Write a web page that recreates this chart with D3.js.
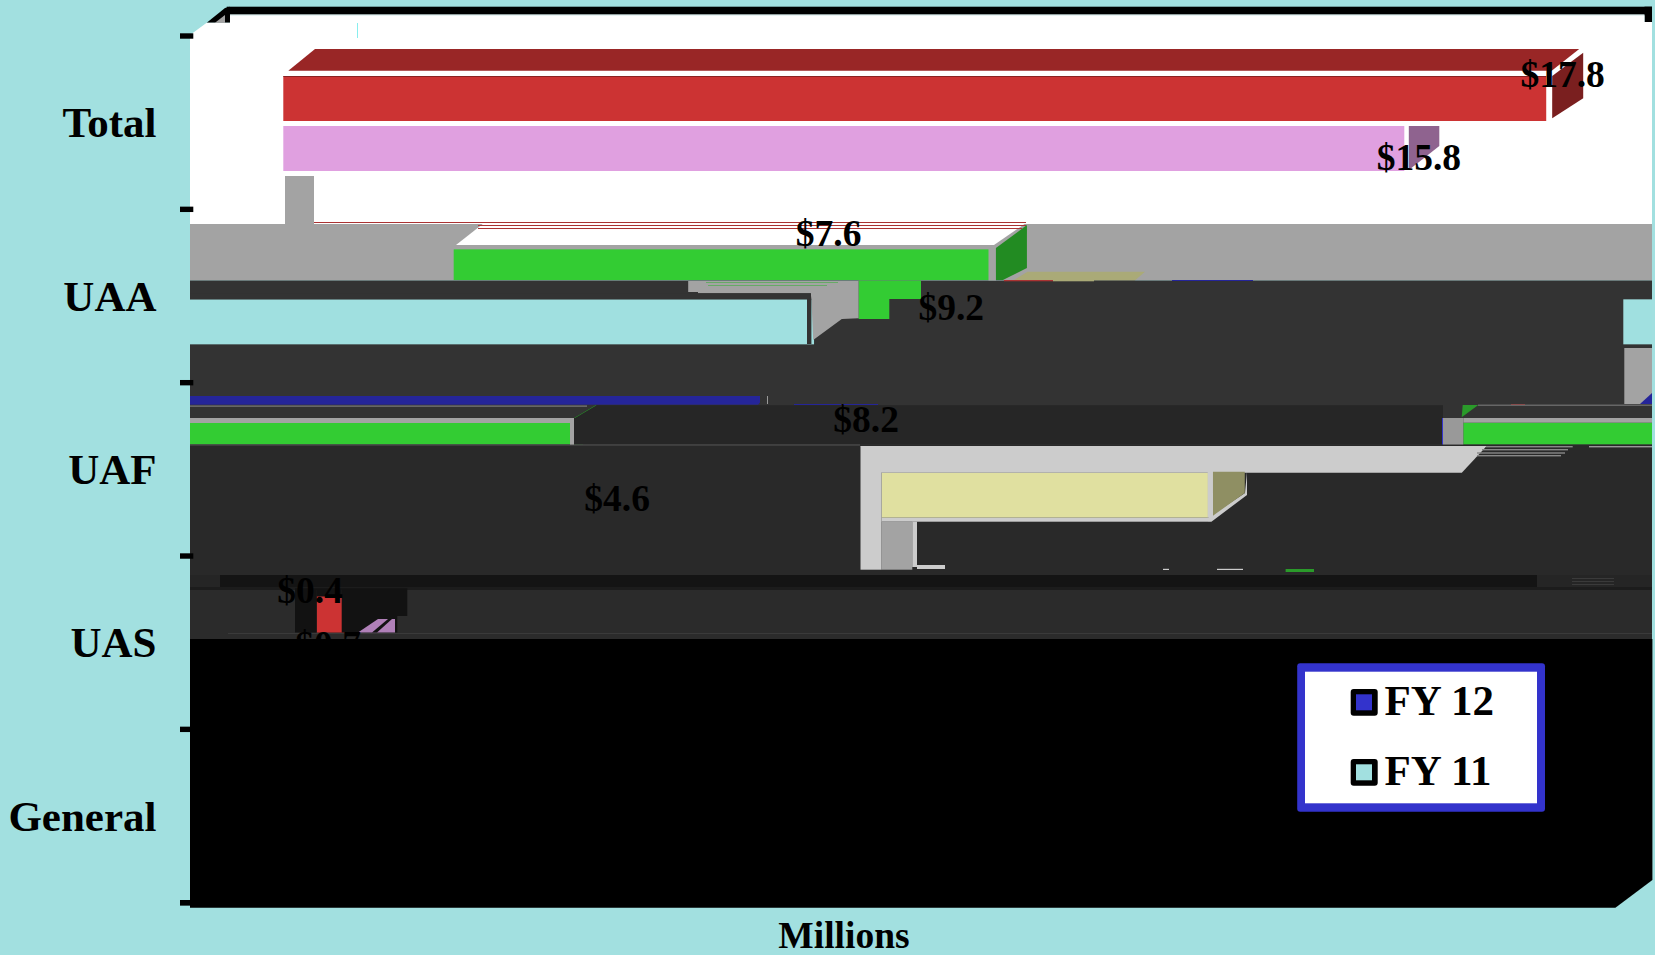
<!DOCTYPE html>
<html>
<head>
<meta charset="utf-8">
<title>Millions by unit</title>
<script src="https://cdn.jsdelivr.net/npm/d3@7"></script>
<style>
html, body { margin: 0; background: #a2e0e0; overflow: hidden; }
svg { display: block; }
text { font-family: "Liberation Serif", serif; font-weight: bold; fill: #000; }
</style>
</head>
<body>
<svg id="chart" width="1655" height="955"></svg>
<script>
// data
var categories = ['Total', 'UAA', 'UAF', 'UAS', 'General'];
var legendNames = ['FY 12', 'FY 11'];
var firstValues = [17.8, 7.6, 8.2, 0.4];    // upper bar of each group
var secondValues = [15.8, 9.2, 4.6, 0.7];   // lower bar of each group
var axisTitle = 'Millions';

// colours of the bars, group by group
var firstColors = ['#cc3333', '#33cc33', '#33cc33', '#cc3333'];
var secondColors = ['#e0a0e0', '#a0e0e0', '#e0e0a0', '#e0a0e0'];
var legendColors = ['#3333cc', '#a2e0e0'];

// the picture is torn: every bar starts somewhere else and long ones wrap round
var firstStart = [283.3, 453.7, 1463.3, 316.7];
var secondStart = [283.3, 1623.3, 881.6, 360];
var firstVisible = [45, 30.7, 21.6, 36.5];
var secondVisible = [45, 45, 45, 0];
var firstLabelX = [341.9, 322.2, 317.2, 314.6];
var secondLabelX = [340, 331.3, 323.6, 311.3];
var firstLabelDy = [10.7, -3.6, 9.3, 7];
var secondLabelDy = [44, 20.7, 38.3, 11];

var Plot = { left: 190, right: 1652, top: 36, bottom: 902.7 };
Plot.width = Plot.right - Plot.left;

var svg = d3.select('#chart');

var x = d3.scaleLinear().domain([0, 20]).range([0, 1419]);
var yGroup = d3.scaleBand().domain(categories).range([Plot.top, Plot.bottom]);
var yBar = d3.scaleBand().domain([0, 1]).range([40, 135]).paddingInner(0.1);

function rect(x0, y0, x1, y1, fill) {
    return svg.append('rect')
        .attr('x', x0).attr('y', y0)
        .attr('width', x1 - x0).attr('height', y1 - y0)
        .attr('fill', fill);
}

function poly(pts, fill) {
    return svg.append('polygon')
        .attr('points', pts.map(function(p) { return p.join(','); }).join(' '))
        .attr('fill', fill);
}

function barTop(group, row) {
    return yGroup(categories[group]) + yBar(row);
}

function barEnd(group, row) {
    var start = row === 0 ? firstStart[group] : secondStart[group];
    var value = row === 0 ? firstValues[group] : secondValues[group];
    return start + x(value);
}

// side or top face, given as offsets from the bar's top right corner
function face(group, row, offsets, fill) {
    var ex = barEnd(group, row), ey = barTop(group, row);
    poly(offsets.map(function(o) { return [ex + o[0], ey + o[1]]; }), fill);
}

function drawPlate() {
    // black back wall edge, top and corner
    rect(226.7, 6.7, 1652, 14.3, '#000');
    rect(226.7, 14.3, 1652, 15.3, '#a3a3a3');
    poly([[206.7, 22.7], [225, 8], [230, 6.7], [230, 22.7]], '#000');
    poly([[215, 22.7], [225, 15], [225, 22.7]], '#a3a3a3');
    rect(1644.5, 6.7, 1652, 22, '#000');

    // white wall
    poly([[190, 35], [206.7, 22.7], [230, 22.7], [230, 15.3], [1644.5, 15.3], [1644.5, 22], [1652, 22], [1652, 224], [190, 224]], '#fff');
    rect(357, 23, 358, 38, '#88eeee');

    // grey band with the white top of the UAA bar cut into it
    rect(190, 224, 1652, 280.5, '#a3a3a3');
    rect(285, 176, 314, 224, '#a3a3a3');
    poly([[456, 245], [484, 223], [1026, 223], [994, 245]], '#fff');
    rect(456, 245, 996, 250, '#a3a3a3');
    rect(314, 222, 1026, 223, '#aa3333');
    rect(478, 225, 1026, 226, '#aa3333');
    rect(478, 228, 1022, 229, '#aa3333');
    poly([[1013, 280.7], [1027.5, 271.7], [1145, 271.7], [1134.6, 280.7]], '#aaaa77');

    // dark rows
    rect(190, 280.5, 1652, 405, '#333333');
    rect(190, 396, 760, 404.7, '#252599');
    poly([[758, 404.7], [766, 396], [766, 404.7]], '#333333');
    rect(767, 396, 768, 404, '#999999');
    rect(794, 404, 878, 405.3, '#252599');
    rect(190, 405, 1652, 445, '#333333');
    rect(190, 445, 1652, 575, '#292929');
    rect(190, 575, 1652, 590, '#252525');
    rect(220, 575, 1537, 587, '#141414');
    rect(190, 587, 1652, 590, '#1c1c1c');
    rect(190, 590, 1652, 640, '#2b2b2b');
    rect(228, 633, 1652, 634, '#3a3a3a');
    [578, 581, 584].forEach(function(y) { rect(1572, y, 1614, y + 1, '#3a3a3a'); });

    // stray colour on the seams
    rect(1004, 280, 1053, 281.3, '#aa3333');
    rect(1053, 280, 1094, 281.3, '#aaaa77');
    rect(1172, 280, 1253, 281, '#252599');
    rect(1511, 404, 1525, 405, '#aa3333');
}

function drawBars() {
    var layer = svg.append('g').attr('clip-path', 'url(#plot-clip)');
    svg.append('clipPath').attr('id', 'plot-clip')
        .append('rect')
        .attr('x', Plot.left).attr('y', 0)
        .attr('width', Plot.width).attr('height', 955);

    var bars = [];
    categories.slice(0, firstValues.length).forEach(function(c, i) {
        bars.push({ group: i, row: 0, value: firstValues[i], start: firstStart[i], seen: firstVisible[i], fill: firstColors[i] });
        bars.push({ group: i, row: 1, value: secondValues[i], start: secondStart[i], seen: secondVisible[i], fill: secondColors[i] });
    });

    // each bar twice, the second copy is the part that wrapped round
    [0, -Plot.width].forEach(function(wrap) {
        layer.append('g').selectAll('rect')
            .data(bars)
            .join('rect')
            .attr('x', function(d) { return d.start + wrap; })
            .attr('y', function(d) { return barTop(d.group, d.row); })
            .attr('width', function(d) { return x(d.value); })
            .attr('height', function(d) { return d.seen; })
            .attr('fill', function(d) { return d.fill; });
    });
}

function drawFaces() {
    // Total
    rect(283.3, 76, barEnd(0, 0), 76.8, '#7a1f1f');
    poly([[firstStart[0] + 5, barTop(0, 0) - 5.3], [firstStart[0] + 31.7, barTop(0, 0) - 27],
          [barEnd(0, 0) + 33, barTop(0, 0) - 27], [barEnd(0, 0) + 5.5, barTop(0, 0) - 5.3]], '#992626');
    face(0, 0, [[6, 0], [37, -23.3], [37, 22.3], [6, 42.3]], '#7a1f1f');
    face(0, 1, [[4.5, 0], [35, 0], [35, 20], [4.5, 44]], '#8f638f');

    // UAA upper bar
    rect(988.5, 245, 996, 280.5, '#a3a3a3');
    face(1, 0, [[3, -1.3], [34, -24.3], [34, 18.7], [10, 30.7], [3, 30.7]], '#228b22');
    rect(858.6, 280.5, 921, 299, '#33cc33');
    rect(858.6, 299, 889.3, 319, '#33cc33');

    // UAA lower bar, its side and top
    poly([[688.2, 281], [858.6, 281], [858.6, 318.3], [841.8, 319], [813.2, 340], [811.4, 299.3],
          [810.7, 293.3], [698, 293.3], [698, 292], [688.2, 292]], '#a3a3a3');
    rect(706, 282, 838, 283, '#66aa66');
    rect(708, 285, 827, 286, '#66aa66');
    rect(190, 293.3, 811, 299.3, '#333333');
    rect(807, 299, 811.4, 344, '#333333');
    rect(1624.3, 348, 1652, 404, '#a3a3a3');
    poly([[1640, 404], [1652, 393], [1652, 404]], '#252599');

    // UAF upper bar
    rect(570, 418, 574, 445, '#a3a3a3');
    rect(190, 418, 572, 423, '#a3a3a3');
    rect(190, 405.3, 587, 407, '#666666');
    poly([[574, 418], [595.5, 405.3], [1443, 405.3], [1443, 444.5], [574, 444.5]], '#262626');
    poly([[574, 418], [595.5, 405.3], [596.5, 405.3], [575, 418]], '#2a9a2a');
    rect(190, 444.5, 860, 445.5, '#555555');
    rect(1443, 418, 1463.3, 444.5, '#999999');
    rect(1442, 418, 1443, 444.5, '#3333cc');
    rect(1463.3, 418, 1652, 422.7, '#a3a3a3');
    rect(1478, 404.5, 1652, 406, '#666666');
    poly([[1461.7, 417.3], [1462.7, 405], [1478.3, 405]], '#2a9a2a');

    // UAF lower bar, light grey top and frame
    poly([[860.5, 446], [1486.7, 446], [1461.8, 472.7], [881.6, 472.7]], '#cccccc');
    rect(860.5, 446, 881.6, 569.7, '#cccccc');
    rect(881.6, 517.7, 1208, 521.7, '#cccccc');
    rect(881.6, 521.7, 912.3, 569.7, '#a3a3a3');
    rect(912.3, 521.7, 917, 567, '#cccccc');
    rect(917, 565, 945, 569, '#cccccc');
    rect(1207.7, 471.7, 1213, 517.7, '#cccccc');
    poly([[1208, 517.7], [1245, 493], [1247, 471.7], [1247, 495], [1211.4, 521.7], [1208, 521.7]], '#cccccc');
    face(2, 1, [[5, -1], [36.8, -1], [36.8, 20.3], [5, 43]], '#8f8f63');
    [[446, 1572.7, 1486], [449, 1568, 1482], [452.3, 1565, 1477], [455, 1561, 1477]].forEach(function(l) {
        rect(l[2], l[0], l[1], l[0] + 1.4, '#888888');
    });
    rect(1589, 446, 1652, 447.4, '#999999');

    // small marks left at the seam
    rect(1163, 568.8, 1169, 570, '#cccccc');
    rect(1217, 568.8, 1243, 570, '#cccccc');
    rect(1285.6, 569, 1314, 572, '#2a9a2a');

    // UAS, what is left of it
    rect(295, 588.3, 316.7, 632.5, '#121212');
    rect(341.7, 588.3, 407.3, 616, '#121212');
    rect(341.7, 616, 397.3, 632.5, '#121212');
    rect(316.7, 588.3, 341.7, 596.5, '#121212');
    poly([[358, 632.5], [378, 619], [395, 619], [395, 632.5]], '#b080b8');
    poly([[372, 632.5], [388, 619], [392, 619], [377, 632.5]], '#121212');
}

function drawAxis() {
    var ticks = categories.map(function(c) { return yGroup(c); }).concat([Plot.bottom]);
    svg.append('g').selectAll('rect')
        .data(ticks)
        .join('rect')
        .attr('x', 180).attr('y', function(d) { return d - 2.7; })
        .attr('width', 13.3).attr('height', 5.4)
        .attr('fill', '#000');

    svg.append('g').selectAll('text')
        .data(categories)
        .join('text')
        .attr('x', 156.5)
        .attr('y', function(d) { return yGroup(d) + yGroup.bandwidth() / 2 + 14.8; })
        .attr('text-anchor', 'end')
        .attr('font-size', 43)
        .text(function(d) { return d; });
}

function valueLabel(value, xEnd, y) {
    svg.append('text')
        .attr('x', xEnd).attr('y', y)
        .attr('text-anchor', 'end')
        .attr('font-size', 37.5)
        .text('$' + value.toFixed(1));
}

function drawLabels() {
    firstValues.forEach(function(v, i) {
        valueLabel(v, x(v) + firstLabelX[i], barTop(i, 0) + firstLabelDy[i]);
    });
    secondValues.forEach(function(v, i) {
        valueLabel(v, x(v) + secondLabelX[i], barTop(i, 1) + secondLabelDy[i]);
    });
}

function drawFloor() {
    // the black floor runs over everything below the UAS bars
    poly([[190, 639], [1652.4, 639], [1652.4, 880], [1615.4, 907.7], [190, 907.7]], '#000');
    rect(180, 727, 193, 732, '#000');
    rect(180, 900, 193, 905.4, '#000');

    svg.append('text')
        .attr('x', 844).attr('y', 948)
        .attr('text-anchor', 'middle')
        .attr('font-size', 37.5)
        .text(axisTitle);
}

function drawLegend() {
    rect(1297.2, 663.3, 1545, 811.7, '#3333cc').attr('rx', 3);
    rect(1305, 671.7, 1537, 803.3, '#fff');

    var rowTop = d3.scalePoint().domain(legendNames).range([689, 759]);
    var rows = svg.append('g').selectAll('g')
        .data(legendNames)
        .join('g')
        .attr('transform', function(d) { return 'translate(0,' + rowTop(d) + ')'; });

    rows.append('rect')
        .attr('x', 1350.7).attr('y', 0)
        .attr('width', 27).attr('height', 26.7)
        .attr('rx', 3).attr('fill', '#000');
    rows.append('rect')
        .attr('x', 1356).attr('y', 5.3)
        .attr('width', 16).attr('height', 16)
        .attr('fill', function(d, i) { return legendColors[i]; });
    rows.append('text')
        .attr('x', 1384.5).attr('y', 26)
        .attr('font-size', 43)
        .text(function(d) { return d; });
}

drawPlate();
drawBars();
drawFaces();
drawAxis();
drawLabels();
drawFloor();
drawLegend();
</script>
</body>
</html>
